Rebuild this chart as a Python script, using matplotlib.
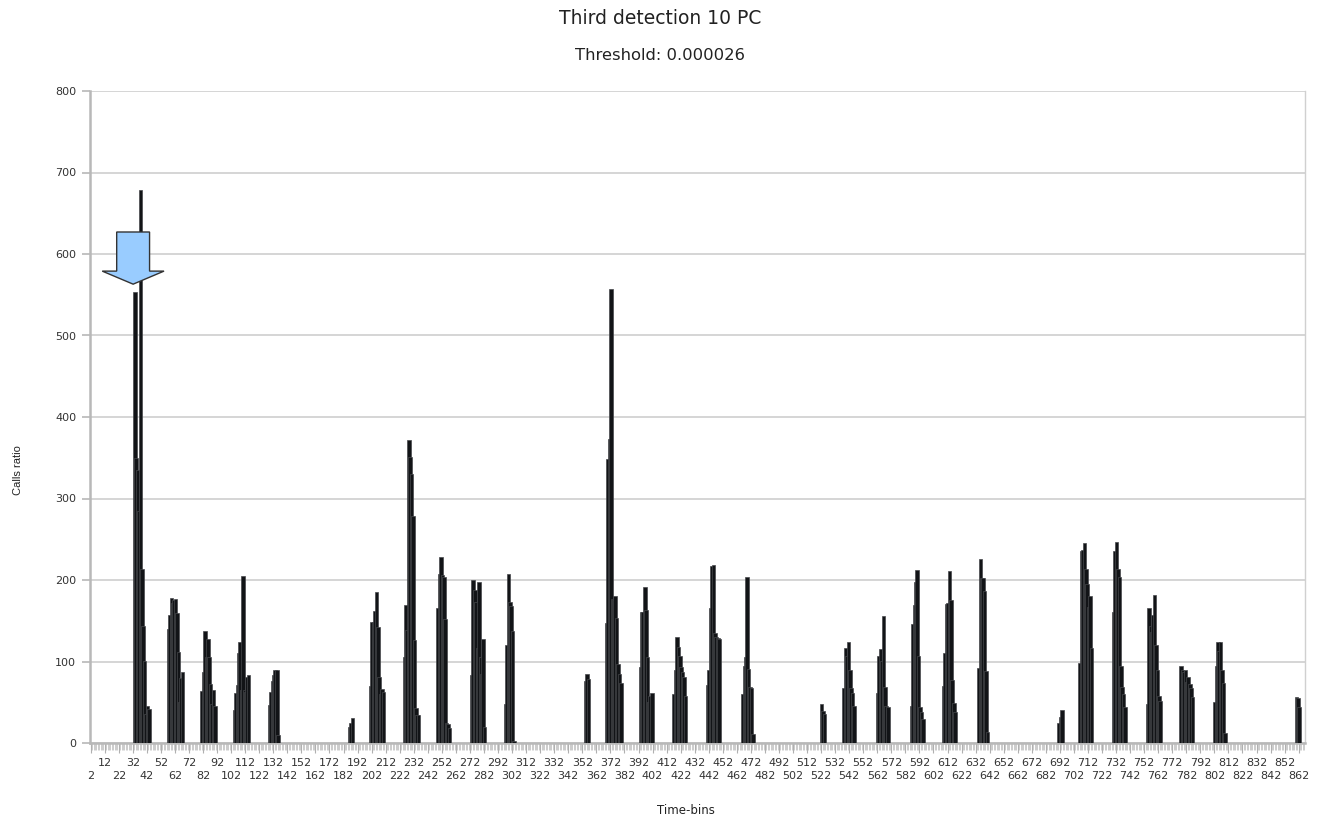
import numpy as np
import matplotlib
matplotlib.use("Agg")
import matplotlib.pyplot as plt
from matplotlib.patches import Polygon

plt.rcParams['font.family'] = ['DejaVu Sans']

# time-bins 2..866, calls ratio only non-zero inside the daily bursts
first_bin = 2
last_bin = 866
burst_start = [33, 57, 81, 104, 129, 186, 201, 225, 249, 273, 297,
               354, 369, 393, 417, 441, 466, 522, 538, 562, 586, 609,
               634, 691, 706, 730, 754, 778, 802, 860]
burst_values = [
    [553, 350, 335, 285, 678, 213, 143, 101, 35, 45, 42],
    [140, 157, 178, 172, 176, 177, 160, 112, 50, 80, 87],
    [64, 87, 137, 106, 128, 106, 73, 48, 65, 46],
    [41, 61, 71, 111, 124, 65, 205, 65, 63, 81, 84],
    [47, 63, 76, 83, 89, 90, 10],
    [20, 25, 31],
    [70, 148, 148, 162, 185, 142, 81, 60, 66, 63],
    [106, 169, 139, 372, 351, 330, 279, 126, 43, 34, 34],
    [166, 207, 228, 206, 204, 152, 24, 23, 18],
    [83, 200, 188, 173, 117, 197, 105, 85, 128, 20],
    [48, 120, 207, 173, 168, 137, 3],
    [76, 85, 79],
    [147, 348, 373, 557, 177, 175, 180, 153, 97, 85, 74],
    [93, 161, 161, 191, 163, 106, 50, 58, 61],
    [60, 90, 130, 118, 107, 93, 87, 81, 58],
    [71, 89, 166, 217, 218, 135, 130, 129, 128],
    [60, 95, 106, 204, 91, 69, 67, 11],
    [48, 39, 35],
    [67, 116, 107, 124, 90, 67, 61, 46],
    [61, 107, 115, 101, 156, 69, 46, 44],
    [46, 146, 169, 198, 212, 107, 44, 38, 30],
    [70, 111, 170, 172, 211, 176, 77, 49, 38],
    [92, 226, 203, 202, 187, 88, 14],
    [24, 32, 40],
    [98, 235, 237, 246, 213, 195, 167, 180, 116],
    [161, 236, 247, 214, 204, 94, 69, 60, 44],
    [48, 166, 143, 136, 157, 182, 120, 89, 58, 52],
    [95, 89, 87, 89, 75, 81, 73, 67, 57],
    [50, 95, 124, 113, 124, 89, 74, 12],
    [57, 55, 44],
]
y_ticks = [0, 100, 200, 300, 400, 500, 600, 700, 800]

bins = np.arange(first_bin, last_bin + 1)
ratio = np.zeros(len(bins))
for start, vals in zip(burst_start, burst_values):
    ratio[start - first_bin:start - first_bin + len(vals)] = vals

fig = plt.figure(figsize=(13.24, 8.18), dpi=100)
ax = fig.add_axes([90 / 1324, 1 - 743 / 818, 1215 / 1324, 652 / 818])

ax.bar(bins + 0.4, ratio, width=2.6, color='#121417', edgecolor='#46484c',
       linewidth=0.5, zorder=3)

ax.set_xlim(first_bin - 0.5, last_bin + 0.5)
ax.set_ylim(0, 800)
ax.set_yticks(y_ticks)
ax.set_yticklabels([str(v) for v in y_ticks], fontsize=8, color='#333333')
ax.yaxis.grid(True, color='#d2d2d2', linewidth=1.3, zorder=0)

# x labels every 10 bins, staggered on two rows
major = list(range(first_bin, last_bin + 1, 10))
ax.set_xticks(major)
ax.set_xticklabels([str(b) if i % 2 else '' for i, b in enumerate(major)],
                   fontsize=8, color='#333333')
for b in major[::2]:
    ax.annotate(str(b), xy=(b, 0), xycoords=('data', 'axes fraction'),
                xytext=(0, -20), textcoords='offset points', ha='center',
                va='top', fontsize=8, color='#333333')
ax.set_xticks(bins, minor=True)
ax.tick_params(axis='x', which='major', length=7, color='#b0b0b0', pad=4)
ax.tick_params(axis='x', which='minor', length=5, color='#cccccc', width=0.7)
ax.tick_params(axis='y', length=6, color='#b8b8b8', width=1.2, pad=4)

for side in ['left', 'bottom']:
    ax.spines[side].set_color('#b8b8b8')
    ax.spines[side].set_linewidth(1.8)
ax.spines['right'].set_color('#d0d0d0')
ax.spines['right'].set_linewidth(1.0)
ax.spines['top'].set_visible(False)

# block arrow marking the first detection
tip_x, tip_y = 32.2, 563
shaft_w, head_w, head_h, shaft_h = 11.7, 22.0, 16.0, 48.0
arrow = Polygon([
    (tip_x - shaft_w, tip_y + head_h + shaft_h),
    (tip_x + shaft_w, tip_y + head_h + shaft_h),
    (tip_x + shaft_w, tip_y + head_h),
    (tip_x + head_w, tip_y + head_h),
    (tip_x, tip_y),
    (tip_x - head_w, tip_y + head_h),
    (tip_x - shaft_w, tip_y + head_h),
], closed=True, facecolor='#99ccff', edgecolor='#333333', linewidth=1.0,
    zorder=5)
ax.add_patch(arrow)

fig.text(660 / 1324, 1 - 18 / 818, 'Third detection 10 PC', ha='center',
         va='center', fontsize=13.5, color='#222222')
fig.text(660 / 1324, 1 - 56 / 818, 'Threshold: 0.000026', ha='center',
         va='center', fontsize=11.8, color='#222222')
fig.text(18 / 1324, 1 - 470 / 818, 'Calls ratio', rotation=90, ha='center',
         va='center', fontsize=8, color='#222222', family='Liberation Sans')
fig.text(686 / 1324, 1 - 810 / 818, 'Time-bins', ha='center', va='center',
         fontsize=8.5, color='#222222')

fig.savefig('out.png', dpi=100)
